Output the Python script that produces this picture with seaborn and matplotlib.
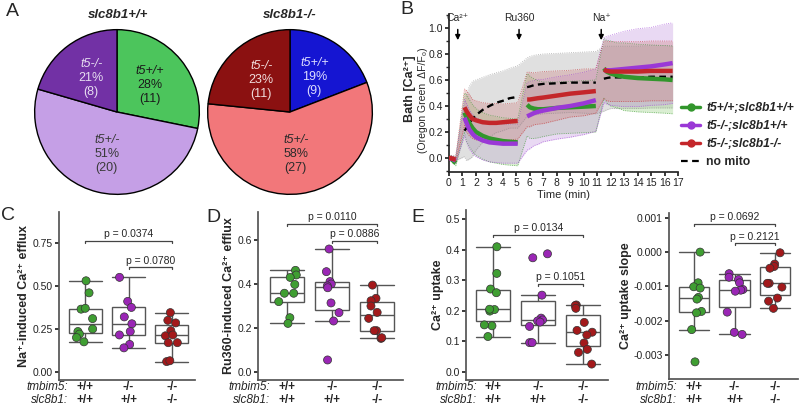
import numpy as np
import pandas as pd
import matplotlib
matplotlib.use('Agg')
import matplotlib.pyplot as plt
import seaborn as sns
from matplotlib.lines import Line2D
from matplotlib.ticker import MultipleLocator

# ---------------- Daten ----------------
# Panel A: Genotypverteilung
pie_titles = ['slc8b1+/+', 'slc8b1-/-']
pie_genotypes = ['t5+/+', 't5+/-', 't5-/-']
pie1_counts = [11, 20, 8]
pie1_pct = ['28%', '51%', '21%']
pie2_counts = [9, 27, 11]
pie2_pct = ['19%', '58%', '23%']

# Panel B: Zeitverlauf (Segmente zwischen den Zugaben)
t_seg = [
    [0.0, 0.1, 0.2, 0.3, 0.4, 0.5],
    [1.15, 1.3, 1.5, 1.75, 2.0, 2.5, 3.0, 3.5, 4.0, 4.5, 5.1],
    [5.8, 6.0, 6.3, 6.6, 7.0, 8.0, 9.0, 10.0, 10.9],
    [11.5, 11.7, 12.0, 12.5, 13.0, 14.0, 15.0, 16.0, 16.6],
]
green_mean = [
    [0.0, 0.0, -0.01, -0.02, -0.03, -0.04],
    [0.35, 0.31, 0.27, 0.23, 0.20, 0.17, 0.15, 0.14, 0.13, 0.125, 0.12],
    [0.41, 0.39, 0.38, 0.375, 0.375, 0.385, 0.39, 0.395, 0.40],
    [0.69, 0.665, 0.65, 0.635, 0.625, 0.615, 0.61, 0.605, 0.60],
]
green_sd = [
    [0.02, 0.02, 0.02, 0.02, 0.02, 0.02],
    [0.15, 0.18, 0.18, 0.18, 0.18, 0.18, 0.18, 0.18, 0.18, 0.18, 0.18],
    [0.24, 0.24, 0.23, 0.22, 0.21, 0.20, 0.20, 0.20, 0.20],
    [0.23, 0.24, 0.25, 0.25, 0.26, 0.26, 0.26, 0.26, 0.26],
]
purple_mean = [
    [0.0, -0.005, -0.005, -0.01, -0.015, -0.02],
    [0.31, 0.27, 0.22, 0.185, 0.16, 0.135, 0.12, 0.115, 0.11, 0.11, 0.11],
    [0.32, 0.33, 0.345, 0.355, 0.365, 0.385, 0.40, 0.42, 0.445],
    [0.675, 0.675, 0.675, 0.68, 0.685, 0.695, 0.705, 0.72, 0.73],
]
purple_sd = [
    [0.02, 0.02, 0.02, 0.02, 0.02, 0.02],
    [0.14, 0.15, 0.15, 0.15, 0.15, 0.15, 0.15, 0.15, 0.15, 0.15, 0.15],
    [0.26, 0.26, 0.25, 0.25, 0.24, 0.24, 0.24, 0.24, 0.24],
    [0.25, 0.26, 0.27, 0.28, 0.29, 0.30, 0.30, 0.31, 0.31],
]
red_mean = [
    [0.0, 0.0, -0.005, -0.005, -0.01, -0.01],
    [0.39, 0.36, 0.33, 0.30, 0.29, 0.275, 0.27, 0.27, 0.275, 0.28, 0.285],
    [0.45, 0.45, 0.455, 0.46, 0.465, 0.48, 0.495, 0.505, 0.515],
    [0.68, 0.67, 0.665, 0.665, 0.665, 0.665, 0.67, 0.67, 0.67],
]
red_sd = [
    [0.02, 0.02, 0.02, 0.02, 0.02, 0.02],
    [0.14, 0.16, 0.16, 0.15, 0.15, 0.15, 0.15, 0.15, 0.14, 0.14, 0.14],
    [0.21, 0.21, 0.20, 0.20, 0.20, 0.19, 0.18, 0.18, 0.17],
    [0.22, 0.23, 0.23, 0.23, 0.23, 0.23, 0.23, 0.23, 0.23],
]
nomito_mean = [
    [0.0, 0.0, 0.0, 0.0, 0.0, 0.0],
    [0.21, 0.23, 0.27, 0.30, 0.33, 0.37, 0.40, 0.425, 0.44, 0.46, 0.47],
    [0.545, 0.55, 0.56, 0.565, 0.57, 0.575, 0.58, 0.58, 0.58],
    [0.61, 0.615, 0.62, 0.62, 0.62, 0.62, 0.625, 0.625, 0.625],
]
nomito_sd = [
    [0.02, 0.02, 0.02, 0.02, 0.02, 0.02],
    [0.20, 0.25, 0.28, 0.29, 0.27, 0.25, 0.24, 0.23, 0.23, 0.23, 0.24],
    [0.225, 0.23, 0.23, 0.23, 0.23, 0.23, 0.23, 0.235, 0.24],
    [0.25, 0.245, 0.24, 0.24, 0.24, 0.24, 0.24, 0.24, 0.24],
]
trace_labels = ['t5+/+;slc8b1+/+', 't5-/-;slc8b1+/+', 't5-/-;slc8b1-/-', 'no mito']
additions = ['Ca²⁺', 'Ru360', 'Na⁺']
addition_times = [0.65, 5.2, 11.3]

# Panels C-E: Einzelwerte pro Genotyp
na_efflux = [
    [0.53, 0.46, 0.365, 0.37, 0.31, 0.25, 0.235, 0.22, 0.20, 0.175],
    [0.55, 0.41, 0.375, 0.32, 0.28, 0.235, 0.215, 0.16, 0.14],
    [0.345, 0.30, 0.285, 0.24, 0.21, 0.215, 0.17, 0.17, 0.06, 0.065],
]
ru_efflux = [
    [0.462, 0.441, 0.43, 0.398, 0.358, 0.358, 0.32, 0.247, 0.221],
    [0.559, 0.456, 0.411, 0.40, 0.391, 0.383, 0.314, 0.27, 0.232, 0.055],
    [0.395, 0.335, 0.324, 0.30, 0.271, 0.244, 0.188, 0.188, 0.153, 0.156],
]
ca_uptake = [
    [0.409, 0.322, 0.271, 0.259, 0.199, 0.204, 0.205, 0.151, 0.154, 0.116],
    [0.386, 0.373, 0.251, 0.176, 0.170, 0.167, 0.163, 0.149, 0.096, 0.096],
    [0.219, 0.217, 0.208, 0.162, 0.136, 0.130, 0.121, 0.095, 0.074, 0.064, 0.026],
]
uptake_slope = [
    [0.0, -0.000895, -0.00101, -0.00105, -0.00132, -0.00137, -0.00173, -0.00177, -0.00226, -0.0032],
    [-0.000629, -0.000733, -0.0008, -0.000895, -0.00109, -0.00111, -0.00114, -0.00175, -0.00234, -0.0024],
    [-0.00002, -0.00035, -0.00042, -0.00047, -0.00091, -0.00091, -0.00102, -0.00134, -0.00143, -0.00164],
]
tmbim5_geno = ['+/+', '-/-', '-/-']
slc8b1_geno = ['+/+', '+/+', '-/-']
p_na = [(0, 2, 0.763, 'p = 0.0374'), (1, 2, 0.608, 'p = 0.0780')]
p_ru = [(0, 2, 0.673, 'p = 0.0110'), (1, 2, 0.595, 'p = 0.0886')]
p_uptake = [(0, 2, 0.447, 'p = 0.0134'), (1, 2, 0.288, 'p = 0.1051')]
p_slope = [(0, 2, 0.00082, 'p = 0.0692'), (1, 2, 0.00026, 'p = 0.2121')]

# ---------------- Stil ----------------
sns.set_theme(style='ticks')
plt.rcParams['font.family'] = ['Liberation Sans', 'DejaVu Sans']
plt.rcParams['axes.unicode_minus'] = False

W, H = 800, 407
fig = plt.figure(figsize=(8, 4.07), dpi=100)


def px_axes(l, t, r, b):
    return fig.add_axes([l / W, 1 - b / H, (r - l) / W, (b - t) / H])


def fig_text(x, y, s, **kw):
    fig.text(x / W, 1 - y / H, s, **kw)


# ---------------- Panel A ----------------
def draw_pie(ax, counts, pcts, colors, txt_colors):
    wedges, _ = ax.pie(counts, colors=colors, startangle=90, counterclock=False,
                       wedgeprops=dict(edgecolor='black', linewidth=1))
    for w, geno, pct, n, tc in zip(wedges, pie_genotypes, pcts, counts, txt_colors):
        mid = np.deg2rad((w.theta1 + w.theta2) / 2)
        cx, cy = 0.52 * np.cos(mid), 0.52 * np.sin(mid)
        ax.text(cx, cy + 0.17, geno, ha='center', va='center', fontsize=9,
                style='italic', color=tc)
        ax.text(cx, cy, pct, ha='center', va='center', fontsize=9, color=tc)
        ax.text(cx, cy - 0.17, f'({n})', ha='center', va='center', fontsize=9, color=tc)
    ax.set_xlim(-1.02, 1.02)
    ax.set_ylim(-1.02, 1.02)


ax_p1 = px_axes(33, 28, 201, 196)
draw_pie(ax_p1, pie1_counts, pie1_pct, ['#4cc55c', '#c59fe6', '#7231a5'],
         ['#1b1b1b', '#3a3a3a', '#e6dcf0'])
ax_p2 = px_axes(206, 28, 374, 196)
draw_pie(ax_p2, pie2_counts, pie2_pct, ['#1515d2', '#f2777a', '#8b1111'],
         ['#dcdcff', '#2b2b2b', '#f0dcdc'])
fig_text(118, 15, pie_titles[0], ha='center', va='center', fontsize=9.5,
         fontweight='bold', style='italic')
fig_text(290, 15, pie_titles[1], ha='center', va='center', fontsize=9.5,
         fontweight='bold', style='italic')

# ---------------- Panel B ----------------
axB = px_axes(449, 14, 678, 172)


def draw_trace(ax, means, sds, color, band_color, zorder, ls='-', lw=3.2):
    t_all = np.concatenate(t_seg)
    m_all = np.concatenate(means)
    s_all = np.concatenate(sds)
    ax.fill_between(t_all, m_all - s_all, m_all + s_all, color=band_color,
                    alpha=0.38, lw=0, zorder=1)
    ax.plot(t_all, m_all - s_all, color=color, lw=0.6, ls=':', alpha=0.7, zorder=2)
    ax.plot(t_all, m_all + s_all, color=color, lw=0.6, ls=':', alpha=0.7, zorder=2)
    for t, m in zip(t_seg, means):
        ax.plot(t, m, color=color, lw=lw, ls=ls, zorder=zorder, solid_capstyle='butt')


line_colors = ['#32962c', '#9a38d6', '#c4262a', 'black']
draw_trace(axB, nomito_mean, nomito_sd, '#888888', '#b0b0b0', 3, ls=(0, (3, 2)), lw=1.6)
draw_trace(axB, green_mean, green_sd, line_colors[0], '#9fd38a', 4)
draw_trace(axB, purple_mean, purple_sd, line_colors[1], '#c79be0', 5)
draw_trace(axB, red_mean, red_sd, line_colors[2], '#cf8a8a', 6)
# gestrichelte Linie schwarz nachziehen
for t, m in zip(t_seg[1:], nomito_mean[1:]):
    axB.plot(t, m, color='black', lw=1.6, ls=(0, (3, 2)), zorder=3)

axB.set_xlim(0, 17)
axB.set_ylim(-0.108, 1.108)
axB.set_xticks(range(18))
axB.set_yticks(np.arange(0, 1.01, 0.2))
axB.set_yticklabels([f'{v:.1f}' for v in np.arange(0, 1.01, 0.2)])
axB.yaxis.set_minor_locator(MultipleLocator(0.1))
axB.tick_params(labelsize=7.5, length=3, pad=1.5, colors='#222222')
axB.tick_params(which='minor', length=2)
axB.set_xlabel('Time (min)', fontsize=8, labelpad=1)
sns.despine(ax=axB)
for t, lab in zip(addition_times, additions):
    axB.annotate('', xy=(t, 0.885), xytext=(t, 1.01),
                 arrowprops=dict(arrowstyle='-|>', color='black', lw=1.1, mutation_scale=7))
    axB.text(t, 1.075, lab, ha='center', va='center', fontsize=7.5)
fig_text(410, 89, 'Bath [Ca²⁺]', rotation=90, ha='center', va='center',
         fontsize=9, fontweight='bold')
fig_text(423, 100, '(Oregon Green  ΔF/F₀)', rotation=90, ha='center', va='center',
         fontsize=7.5)

handles = [Line2D([0], [0], color=c, lw=2.5, marker='o', ms=5) for c in line_colors[:3]]
handles.append(Line2D([0], [0], color='black', lw=1.6, ls=(0, (3, 2))))
leg = axB.legend(handles, trace_labels, loc='upper left', bbox_to_anchor=(681 / W, 1 - 102 / H),
                 bbox_transform=fig.transFigure, frameon=False, fontsize=8.7,
                 handlelength=1.6, handletextpad=0.5, labelspacing=0.5,
                 borderpad=0, borderaxespad=0)
for i, txt in enumerate(leg.get_texts()):
    txt.set_fontweight('bold')
    if i < 3:
        txt.set_fontstyle('italic')

# ---------------- Panels C-E ----------------
point_colors = ['#3f9e32', '#9a26b5', '#a3191b']


def draw_box_panel(ax, box_px, groups, ylim, xlim, yticks, fmt, brackets):
    df = pd.DataFrame({
        'grp': np.repeat(['g0', 'g1', 'g2'], [len(g) for g in groups]),
        'val': np.concatenate(groups),
    })
    order = ['g0', 'g1', 'g2']
    sns.boxplot(data=df, x='grp', y='val', order=order, ax=ax, color='white',
                linecolor='#555555', linewidth=1, width=0.76, showfliers=False,
                capwidths=0.76)
    sns.stripplot(data=df, x='grp', y='val', order=order, hue='grp', hue_order=order,
                  palette=point_colors, ax=ax, jitter=0.22, size=5.8, linewidth=0.5,
                  edgecolor='#333333', legend=False, zorder=5)
    ax.set_xlim(*xlim)
    ax.set_ylim(*ylim)
    ax.set_yticks(yticks)
    ax.set_yticklabels([fmt.format(v) for v in yticks])
    ax.set_xticks([0, 1, 2])
    ax.set_xticklabels([])
    ax.tick_params(axis='y', labelsize=7.5, length=3, pad=1.5, colors='#222222')
    ax.tick_params(axis='x', length=0)
    ax.set_xlabel('')
    ax.set_ylabel('')
    sns.despine(ax=ax)
    for sp in ['left', 'bottom']:
        ax.spines[sp].set_color('#555555')
    tip = (ylim[1] - ylim[0]) * 0.012
    for x0, x1, y, lab in brackets:
        ax.plot([x0, x0, x1, x1], [y - tip, y, y, y - tip], color='#444444', lw=0.9)
        ax.text((x0 + x1) / 2, y + tip * 0.8, lab, ha='center', va='bottom', fontsize=7.5)
    # Genotyp-Zeilen unter der Achse
    top, bottom = box_px
    trans = ax.get_xaxis_transform()
    for row_px, genos in [(387, tmbim5_geno), (400, slc8b1_geno)]:
        yf = -(row_px - bottom) / (bottom - top)
        for i, g in enumerate(genos):
            ax.text(i, yf, g, transform=trans, ha='center', va='center',
                    fontsize=8.5, fontweight='bold', clip_on=False)


np.random.seed(3)
axC = px_axes(59, 212, 195, 380)
draw_box_panel(axC, (212, 380), na_efflux, (-0.047, 0.93), (-0.6, 2.53),
               [0, 0.25, 0.5, 0.75], '{:.2f}', p_na)
axD = px_axes(258, 212, 403, 380)
draw_box_panel(axD, (212, 380), ru_efflux, (-0.036, 0.727), (-0.64, 2.58),
               [0, 0.2, 0.4, 0.6], '{:.1f}', p_ru)
axE1 = px_axes(466, 210, 608, 380)
draw_box_panel(axE1, (210, 380), ca_uptake, (-0.026, 0.529), (-0.6, 2.55),
               [0, 0.1, 0.2, 0.3, 0.4, 0.5], '{:.1f}', p_uptake)
axE2 = px_axes(669, 213, 798, 379)
draw_box_panel(axE2, (213, 379), uptake_slope, (-0.0037, 0.00114), (-0.62, 2.57),
               [0.001, 0.0, -0.001, -0.002, -0.003], '{:.3f}', p_slope)

# Achsentitel und Genotyp-Beschriftung
ylabels = [(24, 296, 'Na⁺-induced Ca²⁺ efflux'), (229, 296, 'Ru360-induced Ca²⁺ efflux'),
           (438, 295, 'Ca²⁺ uptake'), (626, 296, 'Ca²⁺ uptake slope')]
for x, y, s in ylabels:
    fig_text(x, y, s, rotation=90, ha='center', va='center', fontsize=9, fontweight='bold')
for xr in [68, 270, 477, 677]:
    fig_text(xr, 387, 'tmbim5:', ha='right', va='center', fontsize=8.5, style='italic')
    fig_text(xr, 400, 'slc8b1:', ha='right', va='center', fontsize=8.5, style='italic')

# Panelbuchstaben
for x, y, s in [(12, 11, 'A'), (407, 9, 'B'), (8, 215, 'C'), (213, 217, 'D'), (418, 217, 'E')]:
    fig_text(x, y, s, ha='center', va='center', fontsize=14)

fig.savefig('out.png', dpi=100)
